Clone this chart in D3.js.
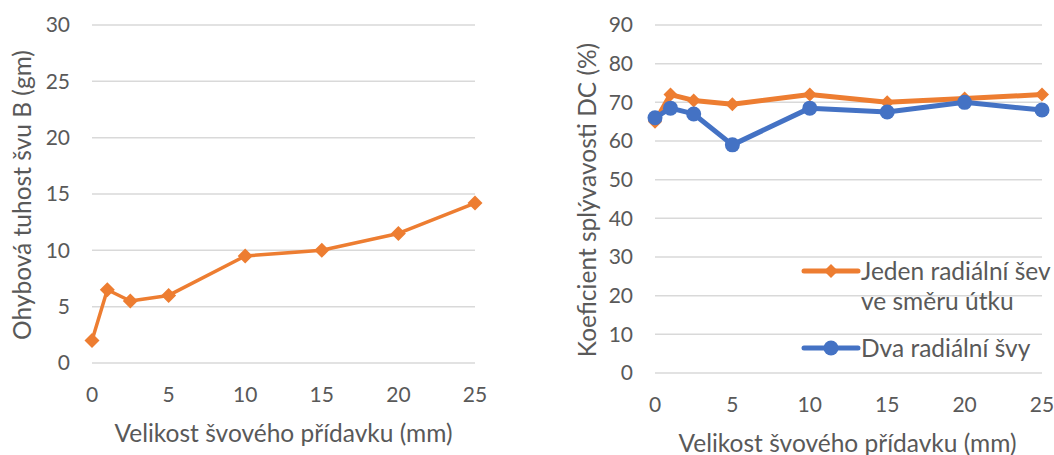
<!DOCTYPE html>
<html>
<head>
<meta charset="utf-8">
<script src="https://cdn.jsdelivr.net/npm/d3@7"></script>
<style>
  body { margin: 0; background: #fff; }
  text { font-family: Lato, "Open Sans", sans-serif; fill: #595959; }
</style>
</head>
<body>
<svg id="chart" width="1054" height="455"></svg>
<script>
// data
var xValues = [0, 1, 2.5, 5, 10, 15, 20, 25];
var stiffness = [2, 6.5, 5.5, 6, 9.5, 10, 11.5, 14.2];
var dcOne = [65, 72, 70.5, 69.5, 72, 70, 71, 72];
var dcTwo = [66, 68.5, 67, 59, 68.5, 67.5, 70, 68];
var xTicks = [0, 5, 10, 15, 20, 25];
var leftTicks = [0, 5, 10, 15, 20, 25, 30];
var rightTicks = [0, 10, 20, 30, 40, 50, 60, 70, 80, 90];
var xTitle = "Velikost švového přídavku (mm)";
var seriesNames = ["Jeden radiální šev", "ve směru útku", "Dva radiální švy"];

var orange = "#ED7D31",
    blue = "#4472C4",
    grid = "#D9D9D9";

var tickSize = "21px",
    titleSize = "24.5px";

var svg = d3.select("#chart");

function drawFrame(opt) {
    let x = d3.scaleLinear().domain([0, 25]).range([opt.x0, opt.x1]);
    let y = d3.scaleLinear().domain([0, opt.yMax]).range([opt.y0, opt.y1]);

    let g = svg.append("g");

    // gridlines
    g.selectAll(".grid")
        .data(opt.yTicks)
        .join("line")
        .attr("x1", opt.x0)
        .attr("x2", opt.x1)
        .attr("y1", d => y(d))
        .attr("y2", d => y(d))
        .attr("stroke", grid)
        .attr("stroke-width", 1.5);

    // y tick labels
    g.selectAll(".ylab")
        .data(opt.yTicks)
        .join("text")
        .attr("x", opt.x0 - 22)
        .attr("y", d => y(d))
        .attr("dy", "0.35em")
        .attr("text-anchor", "end")
        .style("font-size", tickSize)
        .text(d => d);

    // x tick labels
    g.selectAll(".xlab")
        .data(xTicks)
        .join("text")
        .attr("x", d => x(d))
        .attr("y", opt.y0 + 32)
        .attr("dy", "0.35em")
        .attr("text-anchor", "middle")
        .style("font-size", tickSize)
        .text(d => d);

    // axis titles
    g.append("text")
        .attr("x", (opt.x0 + opt.x1) / 2 + opt.xtOff)
        .attr("y", opt.xtY)
        .attr("dy", "0.35em")
        .attr("text-anchor", "middle")
        .style("font-size", titleSize)
        .text(xTitle);

    g.append("text")
        .attr("transform", `translate(${opt.ytX}, ${opt.ytY}) rotate(-90)`)
        .attr("dy", "0.35em")
        .attr("text-anchor", "middle")
        .style("font-size", titleSize)
        .text(opt.yTitle);

    return {x: x, y: y, g: g};
}

function diamond(g, cx, cy, r, color) {
    g.append("path")
        .attr("d", `M${cx},${cy - r}L${cx + r},${cy}L${cx},${cy + r}L${cx - r},${cy}Z`)
        .attr("fill", color);
}

// left chart
let left = drawFrame({
    x0: 92, x1: 475, y0: 363, y1: 25, yMax: 30,
    yTicks: leftTicks, xtY: 433, xtOff: 0,
    ytX: 22, ytY: 195, yTitle: "Ohybová tuhost švu B (gm)"
});

let lineL = d3.line()
    .x((d, i) => left.x(xValues[i]))
    .y(d => left.y(d));

left.g.append("path")
    .datum(stiffness)
    .attr("d", lineL)
    .attr("fill", "none")
    .attr("stroke", orange)
    .attr("stroke-width", 3.5)
    .attr("stroke-linejoin", "round");

stiffness.forEach(function(v, i){
    diamond(left.g, left.x(xValues[i]), left.y(v), 7.5, orange);
});

// right chart
let right = drawFrame({
    x0: 655, x1: 1042, y0: 373, y1: 25, yMax: 90,
    yTicks: rightTicks, xtY: 443, xtOff: -1,
    ytX: 587, ytY: 200, yTitle: "Koeficient splývavosti DC (%)"
});

let lineR = d3.line()
    .x((d, i) => right.x(xValues[i]))
    .y(d => right.y(d));

right.g.append("path")
    .datum(dcOne)
    .attr("d", lineR)
    .attr("fill", "none")
    .attr("stroke", orange)
    .attr("stroke-width", 5)
    .attr("stroke-linejoin", "round");

dcOne.forEach(function(v, i){
    diamond(right.g, right.x(xValues[i]), right.y(v), 7, orange);
});

right.g.append("path")
    .datum(dcTwo)
    .attr("d", lineR)
    .attr("fill", "none")
    .attr("stroke", blue)
    .attr("stroke-width", 5)
    .attr("stroke-linejoin", "round");

right.g.selectAll(".dot")
    .data(dcTwo)
    .join("circle")
    .attr("cx", (d, i) => right.x(xValues[i]))
    .attr("cy", d => right.y(d))
    .attr("r", 7.5)
    .attr("fill", blue);

// legend
let lg = svg.append("g");
lg.append("line")
    .attr("x1", 804).attr("x2", 858)
    .attr("y1", 271).attr("y2", 271)
    .attr("stroke", orange).attr("stroke-width", 5)
    .attr("stroke-linecap", "round");
diamond(lg, 831, 271, 7, orange);
lg.append("text").attr("x", 861).attr("y", 271).attr("dy", "0.35em")
    .style("font-size", titleSize).text(seriesNames[0]);
lg.append("text").attr("x", 861).attr("y", 301).attr("dy", "0.35em")
    .style("font-size", titleSize).text(seriesNames[1]);

lg.append("line")
    .attr("x1", 804).attr("x2", 858)
    .attr("y1", 348).attr("y2", 348)
    .attr("stroke", blue).attr("stroke-width", 5)
    .attr("stroke-linecap", "round");
lg.append("circle").attr("cx", 831).attr("cy", 348).attr("r", 7.5).attr("fill", blue);
lg.append("text").attr("x", 861).attr("y", 348).attr("dy", "0.35em")
    .style("font-size", titleSize).text(seriesNames[2]);
</script>
</body>
</html>
